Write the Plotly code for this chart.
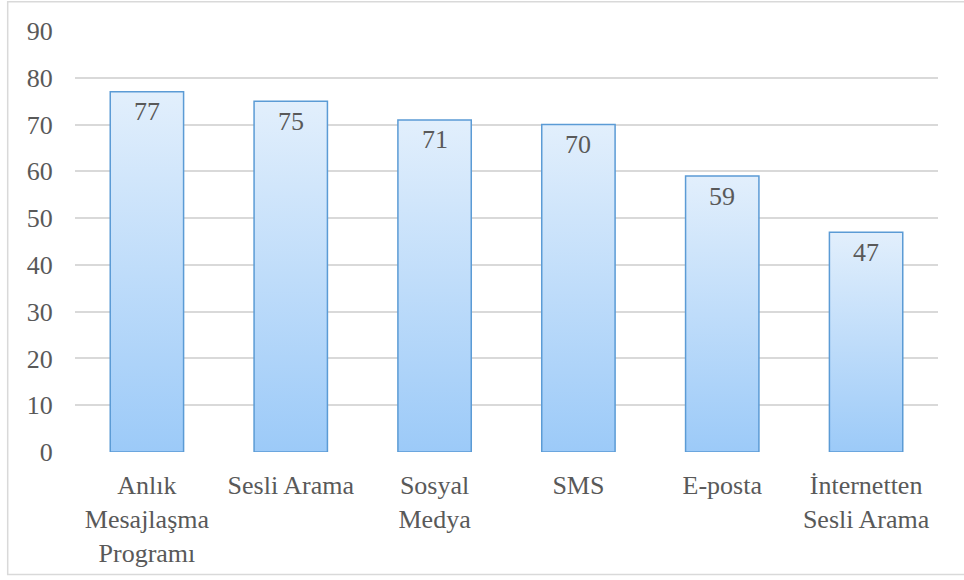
import plotly.graph_objects as go

categories = ["Anlık<br>Mesajlaşma<br>Programı", "Sesli Arama", "Sosyal<br>Medya", "SMS", "E-posta", "İnternetten<br>Sesli Arama"]
values = [77, 75, 71, 70, 59, 47]
y_ticks = [0, 10, 20, 30, 40, 50, 60, 70, 80, 90]

BAR_W = 0.51
FONT = "'Liberation Serif', 'Times New Roman', Times, 'DejaVu Serif', serif"
TXT = "#595959"
FS = 26

fig = go.Figure()
for i, v in enumerate(values):
    fig.add_trace(go.Scatter(
        x=[i - BAR_W / 2, i + BAR_W / 2, i + BAR_W / 2, i - BAR_W / 2, i - BAR_W / 2],
        y=[0, 0, v, v, 0],
        mode="lines",
        fill="toself",
        fillgradient=dict(type="vertical", colorscale=[[0, "#9CCAF8"], [1, "#E2EFFC"]]),
        line=dict(color="#5B9BD5", width=1.5),
        hoverinfo="skip",
        showlegend=False,
    ))

for i, v in enumerate(values):
    fig.add_annotation(x=i, y=v, text=str(v), showarrow=False, yanchor="middle",
                       yshift=-20, font=dict(family=FONT, size=FS, color=TXT))

fig.update_layout(
    width=964, height=580,
    margin=dict(l=75, r=26, t=31, b=126),
    paper_bgcolor="white", plot_bgcolor="white",
    font=dict(family=FONT, size=FS, color=TXT),
    showlegend=False,
    xaxis=dict(range=[-0.5, 5.5], tickvals=list(range(len(categories))), ticktext=categories,
               showgrid=False, zeroline=False, showline=False,
               ticks="outside", ticklen=10, tickcolor="rgba(0,0,0,0)",
               tickfont=dict(family=FONT, size=FS, color=TXT)),
    yaxis=dict(range=[0, 90], tickvals=y_ticks, showgrid=True, gridcolor="#D9D9D9", gridwidth=1.5,
               zeroline=False, showline=False,
               ticks="outside", ticklen=16, tickcolor="rgba(0,0,0,0)",
               tickfont=dict(family=FONT, size=FS, color=TXT)),
    shapes=[dict(type="rect", xref="paper", yref="paper", x0=-0.078, x1=1.05, y0=-0.291, y1=1.0697,
                 line=dict(color="#D9D9D9", width=1.5), fillcolor="rgba(0,0,0,0)", layer="below")],
)

fig.write_html("out.html", config={"displayModeBar": False},
               post_script="document.body.style.margin='0';document.body.style.padding='0';")
